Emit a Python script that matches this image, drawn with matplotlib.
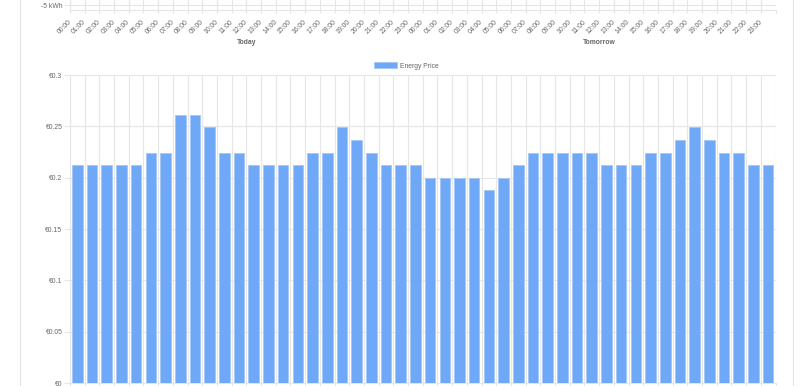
import matplotlib
matplotlib.use("Agg")
import matplotlib.pyplot as plt
from matplotlib.lines import Line2D
from matplotlib.transforms import blended_transform_factory, ScaledTranslation
import numpy as np

plt.rcParams['font.family'] = ['Liberation Sans', 'DejaVu Sans']

hours = [f"{h:02d}:00" for h in range(24)]
tick_labels = hours + hours
day_labels = ["Today", "Tomorrow"]
series_name = "Energy Price"
prices_today = [0.212, 0.212, 0.212, 0.212, 0.212, 0.224, 0.224, 0.261,
                0.261, 0.249, 0.224, 0.224, 0.212, 0.212, 0.212, 0.212,
                0.224, 0.224, 0.249, 0.237, 0.224, 0.212, 0.212, 0.212]
prices_tomorrow = [0.200, 0.200, 0.200, 0.200, 0.188, 0.200, 0.212, 0.224,
                   0.224, 0.224, 0.224, 0.224, 0.212, 0.212, 0.212, 0.224,
                   0.224, 0.237, 0.249, 0.237, 0.224, 0.224, 0.212, 0.212]
price_ticks = [0, 0.05, 0.1, 0.15, 0.2, 0.25, 0.3]
price_tick_labels = ["€0", "€0.05", "€0.1", "€0.15", "€0.2", "€0.25", "€0.3"]
energy_ticks = [-5]
energy_tick_labels = ["-5 kWh"]

prices = prices_today + prices_tomorrow
n = len(prices)
x = np.arange(n)

W, H = 800, 386
fig = plt.figure(figsize=(W / 100, H / 100), dpi=100)
fig.patch.set_facecolor('white')

grid_c = '#e6e6e6'
text_c = '#666666'
fs = 4.9

def fx(px):
    return px / W

def fy(py):
    return 1 - py / H

L, R = 70, 775.5

# ---------- bottom chart ----------
ax = fig.add_axes([fx(L), fy(383), fx(R - L), (383 - 75) / H])
ax.bar(x, prices, width=0.72, color='#6fa8f7', edgecolor='#a6c8f8', linewidth=0.7, zorder=3,
       label=series_name)
ax.set_xlim(-0.5, n - 0.5)
ax.set_ylim(0, 0.3)
ax.set_yticks(price_ticks)
ax.set_yticklabels(price_tick_labels)
ax.set_xticks([])
ax.set_xticks(np.arange(n + 1) - 0.5, minor=True)
ax.grid(True, which='minor', axis='x', color=grid_c, linewidth=0.8, zorder=0)
ax.grid(True, which='major', axis='y', color=grid_c, linewidth=0.8, zorder=0)
ax.tick_params(axis='y', length=4, width=0.8, color=grid_c, labelsize=fs, labelcolor=text_c, pad=1.5)
ax.tick_params(axis='x', which='minor', length=3, width=0.8, color=grid_c, labelbottom=False)
for s in ['top', 'right']:
    ax.spines[s].set_visible(False)
for s in ['left', 'bottom']:
    ax.spines[s].set_color(grid_c)
    ax.spines[s].set_linewidth(0.8)

leg = ax.legend(loc='center', bbox_to_anchor=(fx(406.5), fy(66)), bbox_transform=fig.transFigure,
                frameon=False, fontsize=fs, handlelength=3.4, handleheight=0.95,
                handletextpad=0.45, borderpad=0, borderaxespad=0)
for t in leg.get_texts():
    t.set_color(text_c)

# ---------- top chart (remnant) ----------
ax2 = fig.add_axes([fx(L), fy(10), fx(R - L), 50 / H])
ax2.set_xlim(-0.5, n - 0.5)
ax2.set_ylim(-6, 4)
ax2.set_yticks(energy_ticks)
ax2.set_yticklabels(energy_tick_labels)
ax2.set_xticks(x)
ax2.set_xticklabels(tick_labels, rotation=45, ha='right', va='center', rotation_mode='anchor')
ax2.set_xticks(np.arange(n + 1) - 0.5, minor=True)
ax2.grid(True, which='minor', axis='x', color=grid_c, linewidth=0.8, zorder=0)
ax2.grid(True, which='major', axis='y', color=grid_c, linewidth=0.8, zorder=0)
ax2.tick_params(axis='y', length=4, width=0.8, color=grid_c, labelsize=fs, labelcolor=text_c, pad=1.5)
ax2.tick_params(axis='x', which='major', length=0, labelsize=fs, labelcolor=text_c, pad=8)
ax2.tick_params(axis='x', which='minor', length=2, width=0.8, color=grid_c)
for s in ['top', 'right']:
    ax2.spines[s].set_visible(False)
for s in ['left', 'bottom']:
    ax2.spines[s].set_color(grid_c)
    ax2.spines[s].set_linewidth(0.8)
off = ScaledTranslation(-7 / 100, 0, fig.dpi_scale_trans)
for lab in ax2.get_xticklabels():
    lab.set_transform(lab.get_transform() + off)

tr = blended_transform_factory(ax2.transData, fig.transFigure)
ax2.text(11.5, fy(42), day_labels[0], transform=tr, ha='center', va='center',
         fontsize=fs, fontweight='bold', color=text_c)
ax2.text(35.5, fy(42), day_labels[1], transform=tr, ha='center', va='center',
         fontsize=fs, fontweight='bold', color=text_c)

# card borders
for xb in (19.5, 792.5):
    fig.add_artist(Line2D([fx(xb), fx(xb)], [0, 1], transform=fig.transFigure,
                          color='#e3e3e3', linewidth=0.8))

fig.savefig('out.png', dpi=100)
